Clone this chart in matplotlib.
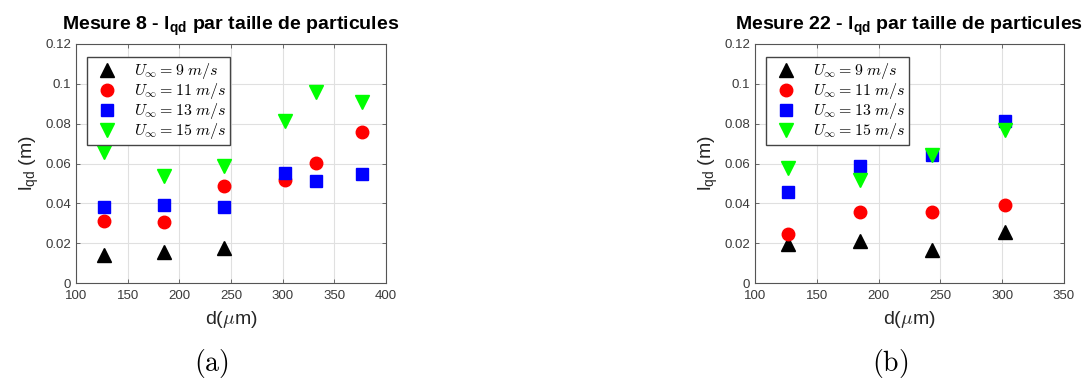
import matplotlib
matplotlib.use("Agg")
import matplotlib.pyplot as plt

plt.rcParams['font.family'] = ['Liberation Sans', 'DejaVu Sans']
plt.rcParams['mathtext.fontset'] = 'cm'

# Panel (a): Mesure 8
d8 = [127, 185, 243, 302, 332, 377]
u9_m8 = [0.0143, 0.0157, 0.0177]
u11_m8 = [0.0311, 0.0306, 0.0488, 0.0516, 0.0604, 0.0756]
u13_m8 = [0.0380, 0.0392, 0.0380, 0.0553, 0.0512, 0.0547]
u15_m8 = [0.0658, 0.0538, 0.0588, 0.0812, 0.0960, 0.0910]

# Panel (b): Mesure 22
d22 = [127, 185, 243, 302]
u9_m22 = [0.0197, 0.0210, 0.0167, 0.0256]
u11_m22 = [0.0246, 0.0356, 0.0356, 0.0391]
u13_m22 = [0.0455, 0.0587, 0.0642, 0.0814]
u15_m22 = [0.0577, 0.0518, 0.0642, 0.0770]

labels = [r'$U_\infty = 9\ m/s$', r'$U_\infty = 11\ m/s$',
          r'$U_\infty = 13\ m/s$', r'$U_\infty = 15\ m/s$']
titles = [r'Mesure 8 - l$\mathregular{_{qd}}$ par taille de particules',
          r'Mesure 22 - l$\mathregular{_{qd}}$ par taille de particules']
xticks8 = [100, 150, 200, 250, 300, 350, 400]
xticks22 = [100, 150, 200, 250, 300, 350]
yticks = [0, 0.02, 0.04, 0.06, 0.08, 0.1, 0.12]
yticklabels = ['0', '0.02', '0.04', '0.06', '0.08', '0.1', '0.12']
captions = [r'$\mathrm{(a)}$', r'$\mathrm{(b)}$']

fig = plt.figure(figsize=(10.9, 3.81), dpi=100)
axA = fig.add_axes([76/1090, 1-283/381, 310/1090, 239/381])
axB = fig.add_axes([755/1090, 1-283/381, 309/1090, 239/381])

edge = '#555555'
tickc = '#3a3a3a'

def style(ax, xt, title, cap, capx):
    ax.set_xlim(xt[0], xt[-1])
    ax.set_ylim(0, 0.12)
    ax.set_xticks(xt)
    ax.set_xticklabels([str(v) for v in xt])
    ax.set_yticks(yticks)
    ax.set_yticklabels(yticklabels)
    ax.grid(True, color='#e0e0e0', linewidth=0.8)
    ax.set_axisbelow(True)
    for s in ax.spines.values():
        s.set_color(edge)
        s.set_linewidth(0.8)
    ax.tick_params(direction='in', length=3, width=0.6, colors=edge,
                   labelcolor=tickc, labelsize=9.5, top=True, right=True)
    ax.tick_params(axis='x', pad=5)
    ax.tick_params(axis='y', pad=3.5)
    ax.set_title(title, fontsize=14, fontweight='bold', pad=10)
    ax.set_xlabel(r'd($\mu$m)', fontsize=14, color='#262626', labelpad=5)
    ax.set_ylabel(r'l$\mathregular{_{qd}}$ (m)', fontsize=14, color='#262626', labelpad=3)
    fig.text(capx / 1090, 1 - 364 / 381, cap, ha='center', va='center', fontsize=20)

def draw(ax, x, a, b, c, dd):
    ax.plot(x[:len(a)], a, linestyle='none', marker='^', color='k', ms=10, label=labels[0])
    ax.plot(x[:len(b)], b, linestyle='none', marker='o', color='#ff0000', ms=9, label=labels[1])
    ax.plot(x[:len(c)], c, linestyle='none', marker='s', color='#0000ff', ms=8, label=labels[2])
    ax.plot(x[:len(dd)], dd, linestyle='none', marker='v', color='#00ff00', ms=10, label=labels[3])
    leg = ax.legend(loc='upper left', bbox_to_anchor=(0.035, 0.945), numpoints=1,
                    fontsize=11.5, frameon=True, fancybox=False, framealpha=1,
                    borderpad=0.25, labelspacing=0.0, handletextpad=0.7,
                    handlelength=2.0, borderaxespad=0)
    leg.get_frame().set_edgecolor('#444444')
    leg.get_frame().set_linewidth(1.0)

draw(axA, d8, u9_m8, u11_m8, u13_m8, u15_m8)
draw(axB, d22, u9_m22, u11_m22, u13_m22, u15_m22)
style(axA, xticks8, titles[0], captions[0], 211)
style(axB, xticks22, titles[1], captions[1], 890)

fig.savefig('out.png', dpi=100)
